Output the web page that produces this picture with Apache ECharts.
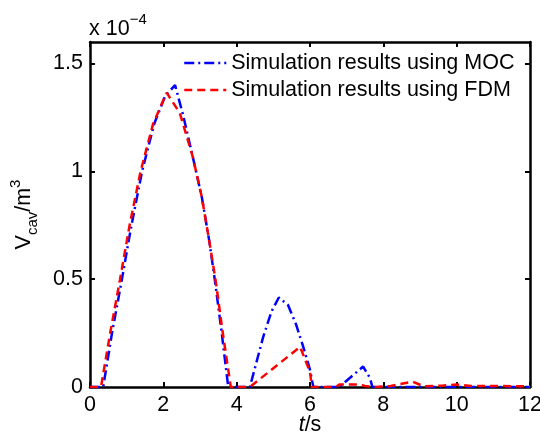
<!DOCTYPE html>
<html>
<head>
<meta charset="utf-8">
<script src="https://cdn.jsdelivr.net/npm/echarts@6/dist/echarts.min.js"></script>
<style>
html,body{margin:0;padding:0;background:#fff;}
#chart{width:540px;height:437px;}
</style>
</head>
<body>
<div id="chart"></div>
<script>
// Time (s) and cavity volume (x 1e-4 m^3)
var mocT = [0, 0.36, 0.6, 0.86, 1.12, 1.42, 1.75, 2.05, 2.32, 2.54, 2.8, 3.05, 3.25, 3.41, 3.6, 3.77, 4.36, 4.72, 4.95, 5.15, 5.4, 5.62, 5.81, 6.0, 6.09, 6.8, 7.45, 7.64, 7.7, 12];
var mocV = [0, 0, 0.25, 0.49, 0.74, 1.0, 1.22, 1.35, 1.40, 1.26, 1.07, 0.88, 0.68, 0.49, 0.24, 0, 0, 0.23, 0.35, 0.415, 0.38, 0.29, 0.19, 0.08, 0, 0, 0.095, 0.04, 0, 0];
var fdmT = [0, 0.3, 0.55, 0.82, 1.08, 1.38, 1.72, 2.09, 2.45, 2.8, 3.05, 3.25, 3.43, 3.63, 3.84, 4.36, 5.73, 6.0, 6.05, 6.7, 6.8, 7.3, 7.5, 7.8, 8.2, 8.5, 8.8, 9.1, 9.6, 10.0, 10.4, 11.0, 12];
var fdmV = [0, 0, 0.25, 0.5, 0.75, 1.0, 1.22, 1.365, 1.27, 1.07, 0.88, 0.68, 0.49, 0.24, 0, 0, 0.186, 0.07, 0, 0, 0.012, 0.012, 0.005, 0, 0.005, 0.015, 0.025, 0.003, 0.006, 0.012, 0.005, 0.005, 0.003];
var seriesNames = ['Simulation results using MOC', 'Simulation results using FDM'];
var xTicks = [0, 2, 4, 6, 8, 10, 12];
var yTicks = [0, 0.5, 1, 1.5];

function pairs(t, v) { return t.map(function (x, i) { return [x, v[i]]; }); }

var FONT = 'Liberation Sans';
var FS = 21.5;
var mocDash = [10, 4, 2, 4];
var fdmDash = [8, 5];
var chart = echarts.init(document.getElementById('chart'));
var axisLineStyle = { color: '#000', width: 2.5 };
var tickStyle = { color: '#000', width: 2 };
chart.setOption({
  animation: false,
  backgroundColor: '#fff',
  textStyle: { fontFamily: FONT },
  grid: { left: 90, right: 10, top: 42, bottom: 50, containLabel: false, outerBoundsMode: 'none' },
  legend: {
    orient: 'vertical',
    left: 183, top: 52, padding: 0,
    itemWidth: 42, itemHeight: 14, itemGap: 5,
    textStyle: { fontSize: FS, lineHeight: 22, color: '#000', fontFamily: FONT },
    data: [
      { name: seriesNames[0], itemStyle: { opacity: 0 }, lineStyle: { color: '#0000ff', width: 2.5, type: mocDash } },
      { name: seriesNames[1], itemStyle: { opacity: 0 }, lineStyle: { color: '#ff0000', width: 2.5, type: fdmDash } }
    ]
  },
  xAxis: [{
    type: 'value', min: 0, max: 12, interval: 2,
    name: '{i|t}{n|/s}', nameLocation: 'middle', nameGap: 27, nameMoveOverlap: false,
    nameTextStyle: { lineHeight: 22, rich: { i: { fontStyle: 'italic', fontSize: FS, lineHeight: 22, fontFamily: FONT, color: '#000' }, n: { fontSize: FS, lineHeight: 22, fontFamily: FONT, color: '#000' } } },
    axisLine: { show: true, onZero: false, lineStyle: axisLineStyle },
    axisTick: { show: true, inside: true, length: 5, lineStyle: tickStyle },
    axisLabel: { fontSize: FS, color: '#000', margin: 7, fontFamily: FONT, customValues: xTicks },
    splitLine: { show: false }
  }, {
    type: 'value', position: 'top', min: 0, max: 12, interval: 2,
    axisLine: { show: true, onZero: false, lineStyle: axisLineStyle },
    axisTick: { show: true, inside: true, length: 5, lineStyle: tickStyle },
    axisLabel: { show: false }, splitLine: { show: false }
  }],
  yAxis: [{
    type: 'value', min: 0, max: 1.6, interval: 0.5,
    name: '{n|V}{sub|cav}{n|/m}{sup|3}', nameLocation: 'middle', nameGap: 50, nameRotate: 90,
    nameTextStyle: { rich: {
      n: { fontSize: FS, fontFamily: FONT, color: '#000', lineHeight: 32 },
      sub: { fontSize: 15, fontFamily: FONT, color: '#000', lineHeight: 15, verticalAlign: 'bottom' },
      sup: { fontSize: 15, fontFamily: FONT, color: '#000', lineHeight: 15, verticalAlign: 'top' }
    } },
    axisLine: { show: true, onZero: false, lineStyle: axisLineStyle },
    axisTick: { show: true, inside: true, length: 5, lineStyle: tickStyle, customValues: yTicks },
    axisLabel: { fontSize: FS, color: '#000', margin: 7, fontFamily: FONT, customValues: yTicks,
      formatter: function (v) { return String(v); } },
    splitLine: { show: false }
  }, {
    type: 'value', position: 'right', min: 0, max: 1.6, interval: 0.5,
    axisLine: { show: true, onZero: false, lineStyle: axisLineStyle },
    axisTick: { show: true, inside: true, length: 5, lineStyle: tickStyle, customValues: yTicks },
    axisLabel: { show: false }, splitLine: { show: false }
  }],
  graphic: [{
    type: 'text', left: 89, top: 12,
    style: {
      text: '{n|x 10}{sup|\u22124}',
      rich: {
        n: { fontSize: FS, fontFamily: FONT, fill: '#000', lineHeight: 34 },
        sup: { fontSize: 15, fontFamily: FONT, fill: '#000', lineHeight: 15, verticalAlign: 'top' }
      }
    }
  }],
  series: [{
    name: seriesNames[0], type: 'line', data: pairs(mocT, mocV),
    showSymbol: false, symbol: 'none', z: 3,
    lineStyle: { color: '#0000ff', width: 2.5, type: mocDash },
    itemStyle: { color: '#0000ff' }
  }, {
    name: seriesNames[1], type: 'line', data: pairs(fdmT, fdmV),
    showSymbol: false, symbol: 'none', z: 4,
    lineStyle: { color: '#ff0000', width: 2.5, type: fdmDash },
    itemStyle: { color: '#ff0000' }
  }]
});
</script>
</body>
</html>
